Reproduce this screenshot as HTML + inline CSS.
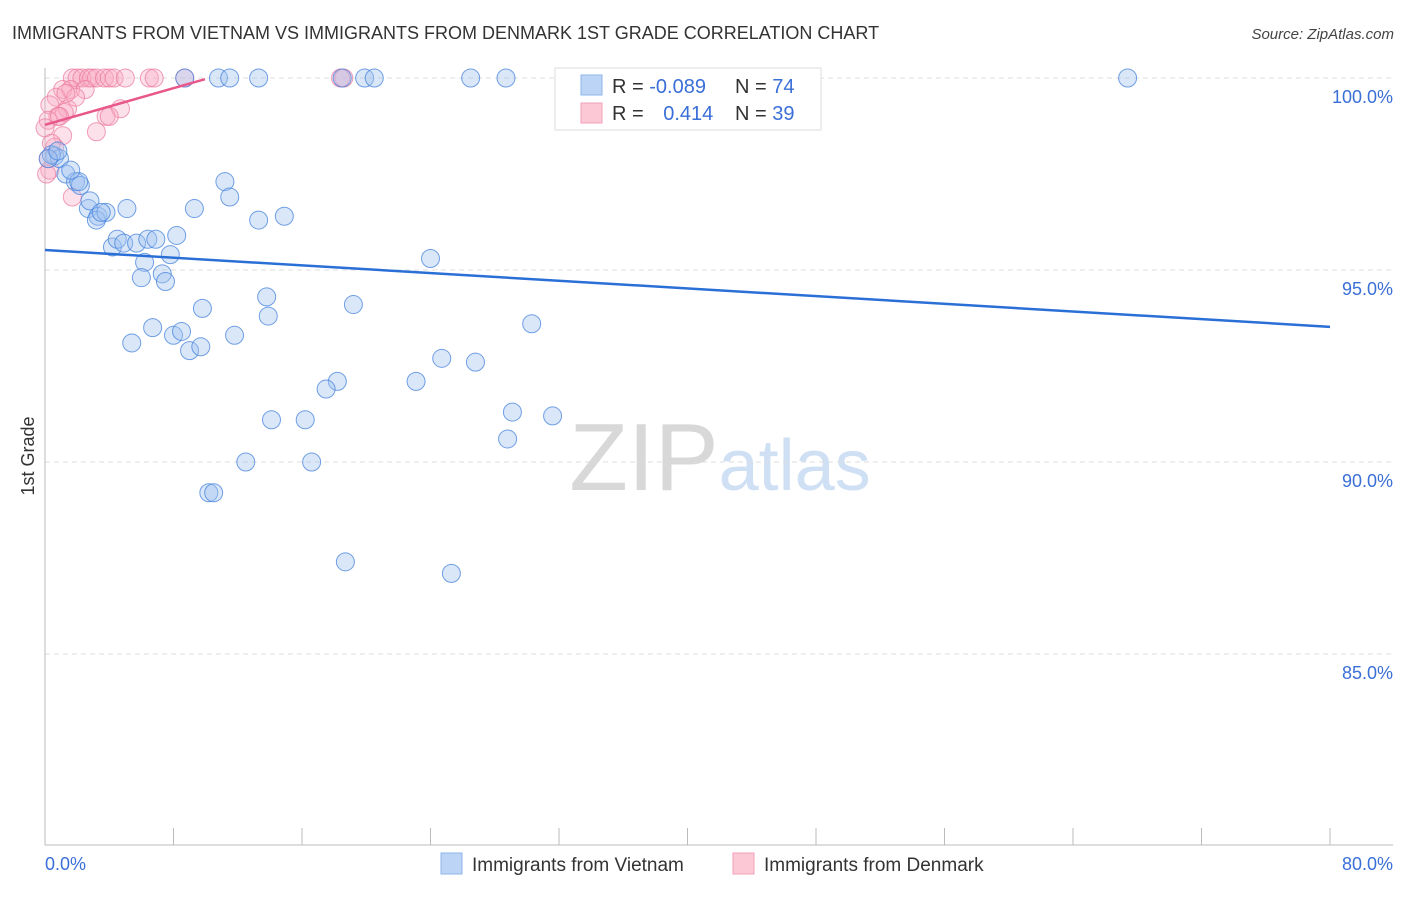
<!DOCTYPE html>
<html><head><meta charset="utf-8"><style>
body{margin:0;background:#fff;font-family:"Liberation Sans",sans-serif;}
svg text{font-family:"Liberation Sans",sans-serif;}
</style></head><body>
<svg id="chart" width="1406" height="892" xmlns="http://www.w3.org/2000/svg">
<text x="12" y="39" font-size="18" fill="#333">IMMIGRANTS FROM VIETNAM VS IMMIGRANTS FROM DENMARK 1ST GRADE CORRELATION CHART</text>
<text x="1394" y="39" font-size="15" fill="#444" text-anchor="end" font-style="italic">Source: ZipAtlas.com</text>
<text x="720" y="490" font-size="96" text-anchor="middle" fill="#ddd" font-family="Liberation Serif"><tspan fill="#d8d8d8">ZIP</tspan><tspan fill="#cfe0f5" font-family="Liberation Sans" font-size="72">atlas</tspan></text>
<text transform="translate(34,456) rotate(-90)" font-size="18" fill="#333" text-anchor="middle">1st Grade</text>
<g id="grid"></g><g id="axes"></g><g id="pts"></g><g id="trends"></g>
<g>
<rect x="555" y="68" width="266" height="62" fill="#fff" stroke="#ddd"/>
<rect x="581" y="75" width="21" height="20" fill="#bcd4f5" stroke="#8fb4ea"/>
<text x="612" y="93" font-size="20" fill="#333">R = <tspan fill="#3a6fd8">-0.089</tspan></text>
<text x="735" y="93" font-size="20" fill="#333">N = <tspan fill="#3a6fd8">74</tspan></text>
<rect x="581" y="103" width="21" height="20" fill="#fcc8d6" stroke="#f1a0b8"/>
<text x="612" y="120" font-size="20" fill="#333">R = <tspan fill="#3a6fd8" dx="14">0.414</tspan></text>
<text x="735" y="120" font-size="20" fill="#333">N = <tspan fill="#3a6fd8">39</tspan></text>
</g>
<g>
<rect x="441" y="853" width="21" height="21" fill="#bcd4f5" stroke="#8fb4ea"/>
<text x="472" y="871" font-size="19" fill="#333">Immigrants from Vietnam</text>
<rect x="733" y="853" width="21" height="21" fill="#fcc8d6" stroke="#f1a0b8"/>
<text x="764" y="871" font-size="19" fill="#333">Immigrants from Denmark</text>
</g>
</svg>
<script>
const yTicks=[100,95,90,85];
const xTickLabels=["0.0%","80.0%"];
const vietnamX=[8.7,10.8,11.5,13.3,18.5,19.9,20.5,26.5,28.7,43.1,67.4,0.6,0.9,0.4,1.3,1.9,2.2,2.1,2.7,2.8,3.3,3.2,3.8,5.1,4.2,4.5,4.9,5.7,6.4,6.9,8.2,6.2,7.8,6.0,7.3,7.5,11.2,11.5,9.3,13.3,14.9,24.0,13.8,13.9,9.8,19.2,30.3,5.4,6.7,8.0,8.5,9.0,9.7,11.8,24.7,26.8,18.2,17.5,23.1,14.1,16.2,29.1,31.6,28.8,12.5,16.6,10.2,10.5,18.7,25.3,0.2,0.8,1.6,3.5];
const vietnamY=[100,100,100,100,100,100,100,100,100,100,100,97.97,97.9,98.0,97.5,97.3,97.2,97.3,96.6,96.8,96.4,96.3,96.5,96.6,95.6,95.8,95.7,95.7,95.8,95.8,95.9,95.2,95.4,94.8,94.9,94.7,97.3,96.9,96.6,96.3,96.4,95.3,94.3,93.8,94.0,94.1,93.6,93.1,93.5,93.3,93.4,92.9,93.0,93.3,92.7,92.6,92.1,91.9,92.1,91.1,91.1,91.3,91.2,90.6,90.0,90.0,89.2,89.2,87.4,87.1,97.9,98.1,97.6,96.5];
const denmarkX=[1.7,2.0,2.3,2.7,2.9,3.2,3.7,4.0,4.3,5.0,6.5,6.8,8.7,18.4,18.6,1.1,1.6,2.5,0.7,0.3,1.4,4.7,1.2,0.8,0.2,3.8,4.0,1.1,3.2,0.0,0.6,0.2,0.3,0.1,1.7,0.4,0.9,1.9,1.3];
const denmarkY=[100,100,100,100,100,100,100,100,100,100,100,100,100,100,100,99.7,99.7,99.7,99.5,99.3,99.2,99.2,99.1,99.0,98.9,99.0,99.0,98.5,98.6,98.7,98.2,97.9,97.6,97.5,96.9,98.3,99.0,99.5,99.6];
const vietnamTrend=[95.52,93.52];
const denmarkTrend=[98.78,99.97];
const denmarkTrendEnd=9.96;
const NS="http://www.w3.org/2000/svg";
const X0=45,X1=1330,Y100=78,PPU=38.4;
function xs(v){return X0+(v/80)*(X1-X0);}
function ys(v){return Y100+(100-v)*PPU;}
function mk(tag,attrs,parent){const e=document.createElementNS(NS,tag);for(const k in attrs)e.setAttribute(k,attrs[k]);document.getElementById(parent).appendChild(e);return e;}
yTicks.forEach(t=>{
 const l=mk('line',{x1:X0,x2:1393,y1:ys(t),y2:ys(t),stroke:'#ddd','stroke-dasharray':'5,4'},'grid');
 
 
 const tx=mk('text',{x:1393,y:ys(t)+25,'font-size':18,fill:'#3a6fd8','text-anchor':'end'},'grid');
 tx.textContent=t.toFixed(1)+'%';
 
 
});
let ax=mk('line',{x1:X0,x2:X0,y1:68,y2:845,stroke:'#bbb'},'axes');


ax=mk('line',{x1:X0,x2:1393,y1:845,y2:845,stroke:'#bbb'},'axes');


for(let i=0;i<=10;i++){const v=i*8;const t=mk('line',{x1:xs(v),x2:xs(v),y1:828,y2:845,stroke:'#bbb'},'axes');
 
 }
[[0,'start',45],[80,'end',1393]].forEach((d,i)=>{const t=mk('text',{x:d[2],y:870,'font-size':18,fill:'#3a6fd8','text-anchor':d[1]},'axes');t.textContent=xTickLabels[i];
 
 });
denmarkX.forEach((x,i)=>{const c=mk('circle',{cx:xs(x),cy:ys(denmarkY[i]),r:9,fill:'rgba(250,170,195,0.35)',stroke:'rgba(235,120,155,0.7)','stroke-width':1},'pts');
 
 });
vietnamX.forEach((x,i)=>{const c=mk('circle',{cx:xs(x),cy:ys(vietnamY[i]),r:9,fill:'rgba(160,195,240,0.4)',stroke:'rgba(70,130,220,0.75)','stroke-width':1},'pts');
 
 });
let tl=mk('line',{x1:xs(0),x2:xs(80),y1:ys(vietnamTrend[0]),y2:ys(vietnamTrend[1]),stroke:'#2a6fd6','stroke-width':2.5},'trends');


tl=mk('line',{x1:xs(0),x2:xs(denmarkTrendEnd),y1:ys(denmarkTrend[0]),y2:ys(denmarkTrend[1]),stroke:'#e8588a','stroke-width':2.5},'trends');


</script>
</body></html>
